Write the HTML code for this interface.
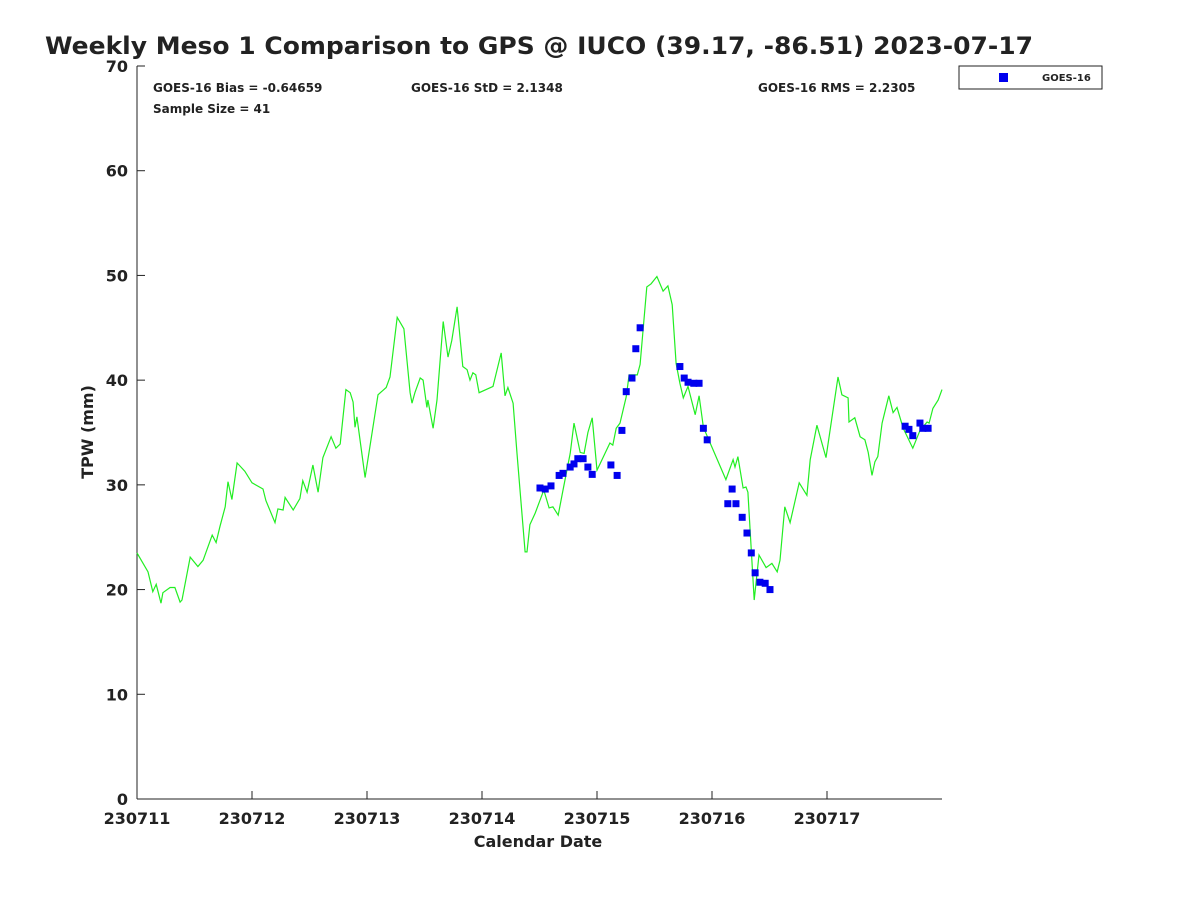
<!DOCTYPE html>
<html><head><meta charset="utf-8"><style>
body{margin:0;background:#fff;}
svg text{font-family:"DejaVu Sans","Liberation Sans",sans-serif;font-weight:bold;fill:#222;}
</style></head><body>
<svg id="chart" width="1200" height="900" viewBox="0 0 1200 900" xmlns="http://www.w3.org/2000/svg">
<text x="45" y="54" font-size="24" fill="#000" textLength="988" lengthAdjust="spacingAndGlyphs">Weekly Meso 1 Comparison to GPS @ IUCO (39.17, -86.51) 2023-07-17</text>
<text x="153" y="92" font-size="12">GOES-16 Bias = -0.64659</text>
<text x="411" y="92" font-size="12">GOES-16 StD = 2.1348</text>
<text x="758" y="92" font-size="12">GOES-16 RMS = 2.2305</text>
<text x="153" y="113" font-size="12">Sample Size = 41</text>
<g>
<rect x="959" y="66" width="143" height="23" fill="#fff" stroke="#222" stroke-width="1"/>
<rect x="999" y="73" width="9" height="9" fill="#0000ee"/>
<text x="1042" y="81" font-size="10">GOES-16</text>
</g>
<g id="axes"></g>
<g id="series"></g>
<text x="538" y="847" font-size="16" text-anchor="middle">Calendar Date</text>
<text transform="translate(93,432) rotate(-90)" font-size="16" text-anchor="middle">TPW (mm)</text>
</svg>
<script>
const xTickLabels=["230711","230712","230713","230714","230715","230716","230717"];
const yTicks=[0,10,20,30,40,50,60,70];
const gpsHours=[0,2.3,3.3,4.0,5.0,5.4,6.9,7.9,9.0,9.4,11.1,12.7,13.8,15.7,16.5,17.3,18.4,19.0,19.8,20.9,22.5,24.0,26.3,26.9,28.8,29.4,30.5,30.9,32.6,34.0,34.6,35.5,36.7,37.8,38.8,40.5,41.5,42.4,43.6,44.5,45.1,45.5,45.9,47.6,50.3,52.0,52.8,54.3,55.7,57.0,57.4,58.0,59.1,59.7,60.5,60.7,61.8,62.6,63.9,64.9,65.7,66.8,68.0,68.9,69.5,70.1,70.7,71.4,74.3,76.0,76.8,77.4,78.5,79.3,81.0,81.4,82.0,83.1,84.9,86.0,86.8,87.9,88.9,90.4,91.2,92.5,93.3,94.1,95.0,96.0,98.7,99.3,100.0,100.8,102.1,102.7,104.4,105.0,106.4,107.3,108.5,109.8,110.8,111.7,112.5,113.3,114.0,115.0,116.5,117.3,118.2,122.9,124.4,124.8,125.4,126.5,127.1,127.5,128.8,129.8,131.3,132.5,133.6,134.2,135.2,136.3,138.2,139.8,140.5,141.9,143.8,146.3,147.1,148.4,148.6,149.8,150.9,151.9,152.6,153.4,154.0,154.6,155.5,156.9,157.8,158.6,159.9,161.9,163.4,164.9,165.3,166.1,167.2,168.0];
const gpsValues=[23.5,21.7,19.8,20.5,18.7,19.7,20.2,20.2,18.8,19.0,23.1,22.2,22.8,25.2,24.5,26.0,27.9,30.3,28.6,32.1,31.3,30.2,29.6,28.5,26.4,27.7,27.6,28.8,27.6,28.7,30.4,29.3,31.9,29.3,32.6,34.6,33.5,33.9,39.1,38.8,37.9,35.5,36.5,30.7,38.6,39.3,40.3,46.0,44.9,38.8,37.8,38.8,40.2,40.0,37.4,38.1,35.4,38.1,45.6,42.2,43.8,47.0,41.3,41.0,40.0,40.7,40.5,38.8,39.4,42.6,38.5,39.3,37.8,33.0,23.6,23.6,26.2,27.3,29.5,27.8,27.9,27.1,29.5,33.0,35.9,33.1,33.0,35.0,36.4,31.4,34.0,33.8,35.4,35.9,38.4,40.5,40.5,41.5,48.9,49.2,49.9,48.5,49.0,47.2,41.6,39.7,38.3,39.4,36.7,38.5,35.5,30.5,32.4,31.7,32.7,29.7,29.8,29.3,19.0,23.3,22.1,22.5,21.7,22.8,27.9,26.4,30.2,29.0,32.4,35.7,32.6,40.3,38.6,38.3,36.0,36.4,34.6,34.3,33.1,30.9,32.2,32.7,35.9,38.5,36.9,37.4,35.4,33.5,35.2,36.0,35.9,37.3,38.1,39.1];
const goesHours=[84.1,85.2,86.4,88.1,88.9,90.4,91.2,92.0,93.1,94.1,95.0,98.9,100.2,101.2,102.1,103.3,104.1,105.0,113.3,114.2,115.0,116.2,117.3,118.2,119.0,124.2,123.3,125.0,126.3,127.3,128.2,129.0,130.0,131.1,132.1,160.3,161.1,161.9,163.4,164.0,165.1];
const goesValues=[29.7,29.6,29.9,30.9,31.1,31.7,32.0,32.5,32.5,31.7,31.0,31.9,30.9,35.2,38.9,40.2,43.0,45.0,41.3,40.2,39.8,39.7,39.7,35.4,34.3,29.6,28.2,28.2,26.9,25.4,23.5,21.6,20.7,20.6,20.0,35.6,35.3,34.7,35.9,35.4,35.4];

const NS="http://www.w3.org/2000/svg";
const X0=137,X1=942,Y0=799,Y1=66;
const xs=h=>X0+h/168*(X1-X0);
const ys=v=>Y0-v/70*(Y0-Y1);
function mk(tag,attrs,parent){const e=document.createElementNS(NS,tag);for(const k in attrs)e.setAttribute(k,attrs[k]);parent.appendChild(e);return e;}
const axes=document.getElementById('axes'),series=document.getElementById('series');
const ya=mk('line',{x1:X0,y1:Y1,x2:X0,y2:Y0,stroke:'#222','stroke-width':1},axes);


const xa=mk('line',{x1:X0,y1:Y0,x2:X1,y2:Y0,stroke:'#222','stroke-width':1},axes);


yTicks.forEach(v=>{
 const t=mk('line',{x1:X0,y1:ys(v),x2:X0+8,y2:ys(v),stroke:'#222'},axes);
 
 
 const l=mk('text',{x:X0-9,y:ys(v)+6,'font-size':16,'text-anchor':'end'},axes);
 
 
 l.textContent=v;
});
xTickLabels.forEach((s,i)=>{
 const x=xs(i*24);
 const t=mk('line',{x1:x,y1:Y0,x2:x,y2:Y0-8,stroke:'#222'},axes);
 
 
 const l=mk('text',{x:x,y:Y0+25,'font-size':16,'text-anchor':'middle'},axes);
 
 
 l.textContent=s;
});
const pts=gpsHours.map((h,i)=>xs(h).toFixed(1)+','+ys(gpsValues[i]).toFixed(1)).join(' ');
const pl=mk('polyline',{points:pts,fill:'none',stroke:'#22ee22','stroke-width':1.2},series);


goesHours.forEach((h,i)=>{
 const r=mk('rect',{x:xs(h)-3.5,y:ys(goesValues[i])-3.5,width:7,height:7,fill:'#0000ee'},series);
 
 
});
</script>
</body></html>
